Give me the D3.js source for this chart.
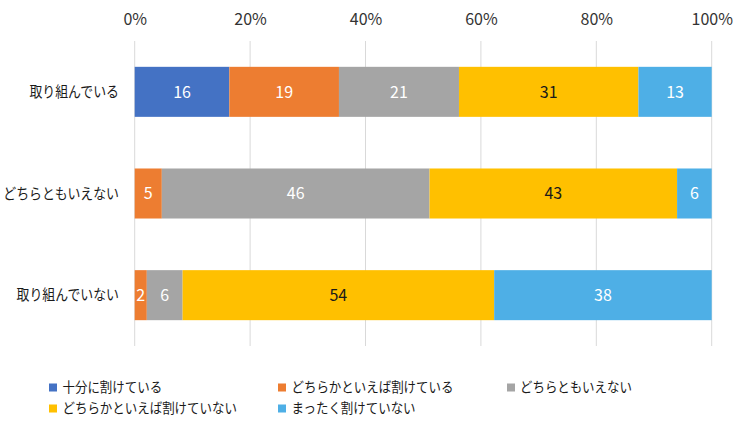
<!DOCTYPE html>
<html>
<head>
<meta charset="utf-8">
<script src="https://cdn.jsdelivr.net/npm/d3@7"></script>
<style>
  html, body { margin: 0; padding: 0; background: #fff; }
  svg { display: block; }
  text { font-family: "Noto Sans CJK JP", "Noto Sans", sans-serif; }
</style>
</head>
<body>
<svg id="chart" width="750" height="423"></svg>
<script>
const categories = ["取り組んでいる", "どちらともいえない", "取り組んでいない"];
const seriesNames = ["十分に割けている", "どちらかといえば割けている", "どちらともいえない", "どちらかといえば割けていない", "まったく割けていない"];
const seriesColors = ["#4472C4", "#ED7D31", "#A5A5A5", "#FFC000", "#4EAFE6"];
const labelColors = ["#ffffff", "#ffffff", "#ffffff", "#1a1a1a", "#ffffff"];
// values per category (percent)
const valsTorikunde = [16.4, 19.0, 20.8, 31.1, 12.7];
const valsDochira = [0, 4.7, 46.4, 42.9, 6.0];
const valsNot = [0, 2.1, 6.2, 54.0, 37.7];
const tickValues = [0, 20, 40, 60, 80, 100];

const rows = [valsTorikunde, valsDochira, valsNot];
const data = categories.map((c, i) => {
  const o = { cat: c };
  seriesNames.forEach((s, j) => o[s] = rows[i][j]);
  return o;
});

const svg = d3.select("#chart");
const x = d3.scaleLinear().domain([0, 100]).range([134.7, 711.7]);
const y = d3.scaleBand().domain(categories).range([41, 346]).paddingInner(0.508).paddingOuter(0.254);

// gridlines
svg.append("g").selectAll("line").data(tickValues).join("line")
  .attr("x1", d => x(d)).attr("x2", d => x(d))
  .attr("y1", 41).attr("y2", 346)
  .attr("stroke", "#D9D9D9").attr("stroke-width", 1);

// top axis labels
const axis = svg.append("g").attr("transform", "translate(0,25)")
  .call(d3.axisTop(x).tickValues(tickValues).tickFormat(d => d + "%").tickSize(0).tickPadding(0));
axis.select(".domain").remove();
axis.selectAll("text").attr("font-size", 16).attr("fill", "#333333")
  .attr("font-family", "'Noto Sans CJK JP', sans-serif");

// category labels (narrow, like Meiryo UI)
const catG = svg.append("g");
categories.forEach(c => {
  catG.append("text")
    .attr("transform", `translate(119,${y(c) + y.bandwidth() / 2}) scale(0.86,1)`)
    .attr("dy", "0.35em")
    .attr("text-anchor", "end")
    .attr("font-size", 15)
    .attr("fill", "#1a1a1a")
    .text(c);
});

const stack = d3.stack().keys(seriesNames);
const stacked = stack(data);

const groups = svg.append("g").selectAll("g").data(stacked).join("g")
  .attr("fill", (d, i) => seriesColors[i]);

groups.selectAll("rect").data(d => d.map(p => ({ p, cat: p.data.cat }))).join("rect")
  .attr("x", d => x(d.p[0]))
  .attr("width", d => x(d.p[1]) - x(d.p[0]))
  .attr("y", d => y(d.cat))
  .attr("height", y.bandwidth());

// data labels
const labels = svg.append("g");
stacked.forEach((s, i) => {
  s.forEach(p => {
    const v = p[1] - p[0];
    if (v <= 0) return;
    labels.append("text")
      .attr("x", (x(p[0]) + x(p[1])) / 2)
      .attr("y", y(p.data.cat) + y.bandwidth() / 2)
      .attr("dy", "0.36em")
      .attr("text-anchor", "middle")
      .attr("font-size", 16)
      .attr("fill", labelColors[i])
      .text(d3.format(".0f")(v));
  });
});

// legend
const legendPos = [
  { mx: 49, tx: 62.5, y: 387.5 },
  { mx: 278, tx: 291.5, y: 387.5 },
  { mx: 507, tx: 520, y: 387.5 },
  { mx: 49, tx: 62.5, y: 408.5 },
  { mx: 278, tx: 291.5, y: 408.5 }
];
const legend = svg.append("g");
seriesNames.forEach((s, i) => {
  const p = legendPos[i];
  legend.append("rect").attr("x", p.mx).attr("y", p.y - 4).attr("width", 8).attr("height", 8)
    .attr("fill", seriesColors[i]);
  legend.append("text")
    .attr("transform", `translate(${p.tx},${p.y}) scale(0.89,1)`)
    .attr("dy", "0.35em")
    .attr("font-size", 14).attr("fill", "#1a1a1a").text(s);
});
</script>
</body>
</html>
